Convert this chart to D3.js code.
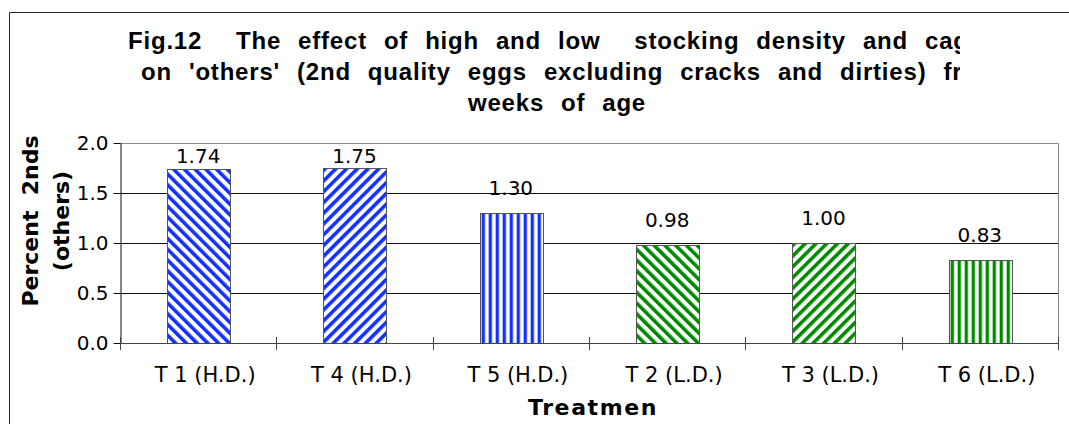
<!DOCTYPE html>
<html>
<head>
<meta charset="utf-8">
<script src="https://cdn.jsdelivr.net/npm/d3@7"></script>
<style>
  html, body { margin: 0; padding: 0; background: #fff; }
  svg { display: block; }
</style>
</head>
<body>
<svg id="chart" width="1069" height="424"></svg>
<script>
// Treatments and their share of 2nd-quality "other" eggs (%)
const categories = ["T 1 (H.D.)", "T 4 (H.D.)", "T 5 (H.D.)", "T 2 (L.D.)", "T 3 (L.D.)", "T 6 (L.D.)"];
const values = [1.74, 1.75, 1.30, 0.98, 1.00, 0.83];
const valueLabels = ["1.74", "1.75", "1.30", "0.98", "1.00", "0.83"];
const yTicks = [0, 0.5, 1.0, 1.5, 2.0];
const titleLines = [
  "Fig.12  The effect of high and low  stocking density and cage",
  "on 'others' (2nd quality eggs excluding cracks and dirties) from",
  "weeks of age"
];
const yTitleLines = ["Percent  2nds", "(others)"];
const xTitle = "Treatmen";

// Fill style per bar: stripe colour and direction
const fills = [
  { color: "#1230ff", dir: "back" },
  { color: "#1230ff", dir: "fwd" },
  { color: "#1230ff", dir: "vert" },
  { color: "#008a00", dir: "back" },
  { color: "#008a00", dir: "fwd" },
  { color: "#008a00", dir: "vert" }
];

const svg = d3.select("#chart");
const plot = { left: 120, right: 1058, top: 143, bottom: 343 };

const x = d3.scaleBand().domain(categories).range([plot.left, plot.right]).paddingInner(0).paddingOuter(0);
const y = d3.scaleLinear().domain([0, 2]).range([plot.bottom, plot.top]);

// Striped pattern definitions
const defs = svg.append("defs");
fills.forEach((f, i) => {
  const period = f.dir === "vert" ? 7 : 7.6;
  const rot = f.dir === "vert" ? 0 : (f.dir === "back" ? -45 : 45);
  const p = defs.append("pattern")
    .attr("id", "fill" + i)
    .attr("patternUnits", "userSpaceOnUse")
    .attr("width", period)
    .attr("height", period)
    .attr("patternTransform", `translate(${x(categories[i])},0) rotate(${rot})`);
  p.append("rect").attr("width", period).attr("height", period).attr("fill", "#fff");
  p.append("rect").attr("x", 0).attr("width", period * 0.47).attr("height", period).attr("fill", f.color);
});

// Outer frame
svg.append("path")
  .attr("d", "M9.5,424 V12.5 H1069")
  .attr("fill", "none")
  .attr("stroke", "#222")
  .attr("stroke-width", 1);

// Title (clipped at the right, as the frame cuts it)
defs.append("clipPath").attr("id", "titleClip")
  .append("rect").attr("x", 0).attr("y", 0).attr("width", 960).attr("height", 130);
const title = svg.append("g").attr("clip-path", "url(#titleClip)")
  .style("font-family", "'Liberation Sans', Arial, sans-serif")
  .style("font-weight", "bold")
  .style("font-size", "24px")
  .style("letter-spacing", "0.8px")
  .style("word-spacing", "9.5px")
  .attr("fill", "#000");
title.append("text").attr("xml:space", "preserve").attr("x", 128).attr("y", 49).text(titleLines[0]);
title.append("text").attr("xml:space", "preserve").attr("x", 141).attr("y", 80).text(titleLines[1]);
title.append("text").attr("xml:space", "preserve").attr("x", 557).attr("y", 111).attr("text-anchor", "middle").text(titleLines[2]);

// Plot background and gridlines
svg.append("rect")
  .attr("x", plot.left).attr("y", plot.top)
  .attr("width", plot.right - plot.left).attr("height", plot.bottom - plot.top)
  .attr("fill", "#fff");

svg.append("g")
  .selectAll("line")
  .data(yTicks.filter(t => t > 0 && t < 2))
  .join("line")
  .attr("x1", plot.left).attr("x2", plot.right)
  .attr("y1", d => Math.round(y(d)) + 0.5).attr("y2", d => Math.round(y(d)) + 0.5)
  .attr("stroke", "#111");

// Plot frame: top and right edges in grey
svg.append("path")
  .attr("d", `M${plot.left},${y(2) + 0.5} H${plot.right + 0.5} V${plot.bottom}`)
  .attr("fill", "none")
  .attr("stroke", "#888");

// Bars
svg.append("g")
  .selectAll("rect")
  .data(values)
  .join("rect")
  .attr("x", (d, i) => Math.round(x(categories[i]) + x.bandwidth() * 0.3) + 0.5)
  .attr("width", Math.round(x.bandwidth() * 0.4))
  .attr("y", d => Math.round(y(d)) + 0.5)
  .attr("height", d => Math.round(y(0)) - Math.round(y(d)))
  .attr("fill", (d, i) => `url(#fill${i})`)
  .attr("stroke", "#555")
  .attr("stroke-width", 1);

// Value labels above bars, kept inside the plot area
svg.append("g")
  .selectAll("text")
  .data(values)
  .join("text")
  .attr("x", (d, i) => x(categories[i]) + x.bandwidth() / 2)
  .attr("y", d => Math.max(y(d) - 18, y(2) + 20))
  .attr("text-anchor", "middle")
  .style("font-family", "'DejaVu Sans', Verdana, sans-serif")
  .style("font-size", "20px")
  .attr("fill", "#000")
  .text((d, i) => valueLabels[i]);

// Y axis
const yAxis = svg.append("g")
  .attr("transform", `translate(${plot.left + 0.5},0)`)
  .call(d3.axisLeft(y).tickValues(yTicks).tickFormat(d3.format(".1f")).tickSize(7).tickPadding(5).tickSizeOuter(0));
yAxis.select(".domain").attr("stroke", "#111");
yAxis.selectAll(".tick line").attr("stroke", "#111");
yAxis.selectAll(".tick text")
  .style("font-family", "'DejaVu Sans', Verdana, sans-serif")
  .style("font-size", "20px")
  .attr("fill", "#000");

// X axis baseline with cross ticks at category boundaries
const xAxis = svg.append("g");
xAxis.append("line")
  .attr("x1", plot.left).attr("x2", plot.right + 1)
  .attr("y1", Math.round(y(0)) + 0.5).attr("y2", Math.round(y(0)) + 0.5)
  .attr("stroke", "#444");
const bounds = categories.map(c => x(c)).concat([x(categories[categories.length - 1]) + x.bandwidth()]);
xAxis.selectAll("line.tick")
  .data(bounds)
  .join("line")
  .attr("class", "tick")
  .attr("x1", d => Math.round(d) + 0.5).attr("x2", d => Math.round(d) + 0.5)
  .attr("y1", y(0) - 6).attr("y2", y(0) + 7)
  .attr("stroke", "#444");
xAxis.selectAll("text")
  .data(categories)
  .join("text")
  .attr("x", d => x(d) + x.bandwidth() / 2 + 7)
  .attr("y", 382)
  .attr("text-anchor", "middle")
  .style("font-family", "'DejaVu Sans', Verdana, sans-serif")
  .style("font-size", "21px")
  .attr("fill", "#000")
  .text(d => d);

// Axis titles
svg.append("text")
  .attr("x", (plot.left + plot.right) / 2 + 4)
  .attr("y", 415)
  .attr("text-anchor", "middle")
  .style("font-family", "'DejaVu Sans', Verdana, sans-serif")
  .style("font-weight", "bold")
  .style("font-size", "22px")
  .style("letter-spacing", "1.6px")
  .attr("fill", "#000")
  .text(xTitle);

const yTitle = svg.append("text")
  .attr("xml:space", "preserve")
  .attr("transform", "translate(0,221) rotate(-90)")
  .attr("text-anchor", "middle")
  .style("font-family", "'DejaVu Sans', Verdana, sans-serif")
  .style("font-weight", "bold")
  .style("font-size", "22px")
  .attr("fill", "#000");
yTitle.append("tspan").attr("x", 0).attr("y", 37.5).text(yTitleLines[0]);
yTitle.append("tspan").attr("x", 0).attr("y", 69).text(yTitleLines[1]);
</script>
</body>
</html>
